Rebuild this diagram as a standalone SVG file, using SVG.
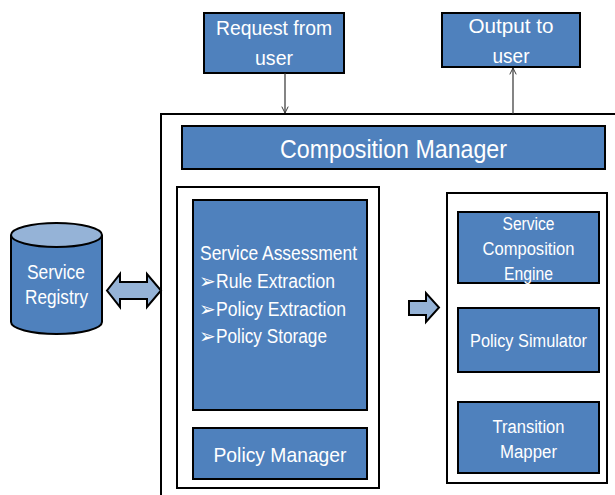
<svg xmlns="http://www.w3.org/2000/svg" width="615" height="495" viewBox="0 0 615 495">
<style>
.box{fill:#4F81BD;stroke:#000;stroke-width:2}
.frame{fill:#fff;stroke:#000;stroke-width:2}
.light{fill:#95B3D7;stroke:#000;stroke-width:2}
text{font-family:"Liberation Sans",Arial,sans-serif;fill:#fff}
.c{text-anchor:middle}
.line{stroke:#333;stroke-width:1.2;fill:none}
.g{font-family:"DejaVu Sans",sans-serif;font-size:20px}
</style>
<defs>
<marker id="ah" viewBox="0 0 10 10" refX="9" refY="5" markerWidth="8" markerHeight="8" orient="auto" markerUnits="userSpaceOnUse">
<path d="M1,1 L9,5 L1,9" fill="none" stroke="#333" stroke-width="1.2"/>
</marker>
</defs>
<rect width="615" height="495" fill="#fff"/>
<g id="composition-frame">
<rect x="161" y="114" width="470" height="400" class="frame"/>
</g>
<g id="request">
<rect x="204" y="13" width="140" height="60" class="box"/>
<text x="274" y="35" font-size="21" class="c" textLength="116" lengthAdjust="spacingAndGlyphs">Request from</text>
<text x="274" y="65" font-size="21" class="c" textLength="38" lengthAdjust="spacingAndGlyphs">user</text>
</g>
<g id="output">
<rect x="442" y="13" width="138" height="54" class="box"/>
<text x="511" y="33" font-size="21" class="c" textLength="85" lengthAdjust="spacingAndGlyphs">Output to</text>
<text x="511" y="63" font-size="21" class="c" textLength="37" lengthAdjust="spacingAndGlyphs">user</text>
</g>
<g id="composition-manager">
<rect x="182" y="126" width="423" height="43" class="box"/>
<text x="393.5" y="158" font-size="26" class="c" textLength="227" lengthAdjust="spacingAndGlyphs">Composition Manager</text>
</g>
<g id="left-frame">
<rect x="177" y="187" width="202" height="301" class="frame"/>
</g>
<g id="service-assessment">
<rect x="193" y="200" width="174" height="210" class="box"/>
<text x="200" y="260" font-size="19.5" textLength="157" lengthAdjust="spacingAndGlyphs">Service Assessment</text>
<text x="199" y="288" class="g">➢</text>
<text x="216" y="288" font-size="19.5" textLength="119" lengthAdjust="spacingAndGlyphs">Rule Extraction</text>
<text x="199" y="316" class="g">➢</text>
<text x="216" y="316" font-size="19.5" textLength="130" lengthAdjust="spacingAndGlyphs">Policy Extraction</text>
<text x="199" y="343" class="g">➢</text>
<text x="216" y="343" font-size="19.5" textLength="111" lengthAdjust="spacingAndGlyphs">Policy Storage</text>
</g>
<g id="policy-manager">
<rect x="193" y="428" width="174" height="51" class="box"/>
<text x="280" y="462" font-size="21" class="c" textLength="133" lengthAdjust="spacingAndGlyphs">Policy Manager</text>
</g>
<g id="right-frame">
<rect x="447" y="193" width="160" height="290" class="frame"/>
</g>
<g id="service-composition-engine">
<rect x="458" y="212" width="141" height="71" class="box"/>
<text x="528.5" y="230" font-size="18" class="c" textLength="52" lengthAdjust="spacingAndGlyphs">Service</text>
<text x="528.5" y="255" font-size="18" class="c" textLength="92" lengthAdjust="spacingAndGlyphs">Composition</text>
<text x="528.5" y="280" font-size="18" class="c" textLength="49" lengthAdjust="spacingAndGlyphs">Engine</text>
</g>
<g id="policy-simulator">
<rect x="458" y="308" width="141" height="64" class="box"/>
<text x="528.5" y="347" font-size="18" class="c" textLength="117" lengthAdjust="spacingAndGlyphs">Policy Simulator</text>
</g>
<g id="transition-mapper">
<rect x="458" y="402" width="141" height="71" class="box"/>
<text x="528.5" y="433" font-size="18" class="c" textLength="72" lengthAdjust="spacingAndGlyphs">Transition</text>
<text x="528.5" y="458" font-size="18" class="c" textLength="57" lengthAdjust="spacingAndGlyphs">Mapper</text>
</g>
<g id="service-registry">
<path d="M11,235 L11,322 A45.5,12 0 0 0 102,322 L102,235" class="box"/>
<ellipse cx="56.5" cy="235" rx="45.5" ry="12" class="light"/>
<text x="56" y="279" font-size="19.5" class="c" textLength="58" lengthAdjust="spacingAndGlyphs">Service</text>
<text x="56.5" y="304" font-size="19.5" class="c" textLength="63" lengthAdjust="spacingAndGlyphs">Registry</text>
</g>
<g id="connectors">
<line x1="285" y1="73" x2="285" y2="113" class="line" marker-end="url(#ah)"/>
<line x1="513" y1="114" x2="513" y2="68" class="line" marker-end="url(#ah)"/>
<path d="M107,290.5 L120,274 L120,282 L147,282 L147,274 L161,290.5 L147,307 L147,299 L120,299 L120,307 Z" class="light"/>
<path d="M409,301 L426,301 L426,293 L439,307.5 L426,322 L426,315 L409,315 Z" class="light"/>
</g>
</svg>
